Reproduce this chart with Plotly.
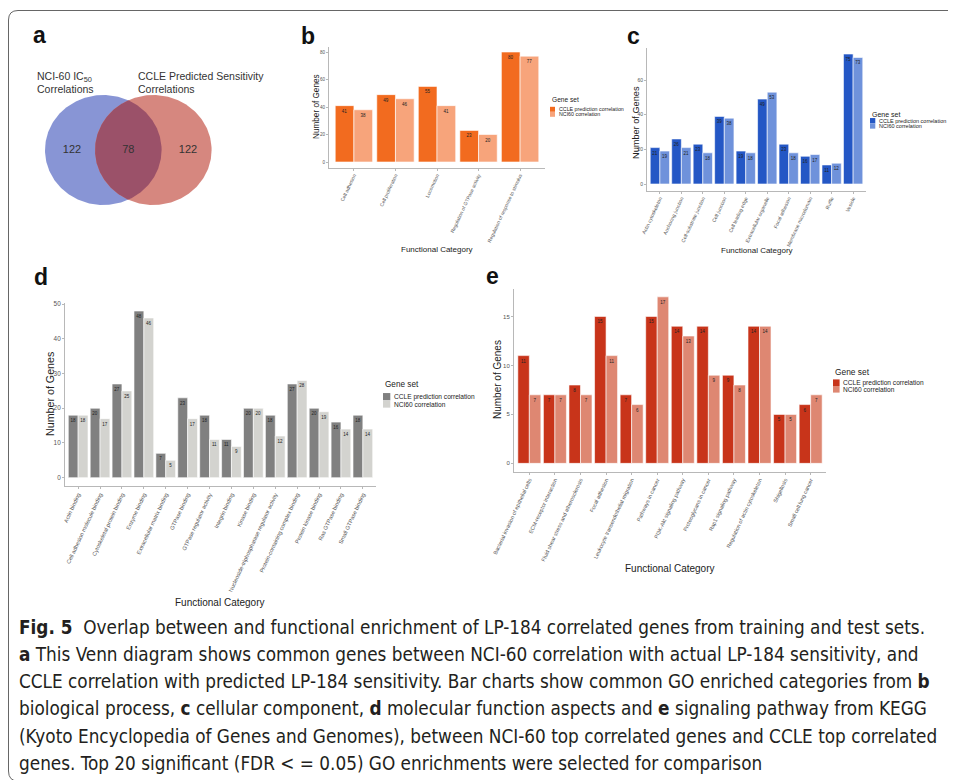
import numpy as np
import plotly.graph_objects as go

# page is rendered with an 8px body margin: figure pixel = page pixel - 8
OFF = 8
W, H = 948, 772


def fx(p):
    return (p - OFF) / W


def fy(p):
    return 1 - (p - OFF) / H


FONT = "Liberation Sans, Arial, sans-serif"
CAP_FONT = "Liberation Sans Narrow, DejaVu Sans Condensed, Liberation Sans, sans-serif"

# ---------------- data ----------------
venn_set_labels = ["NCI-60 IC<sub>50</sub><br>Correlations", "CCLE Predicted Sensitivity<br>Correlations"]
venn_counts = [122, 78, 122]  # NCI-60 only, shared, CCLE only

series_names = ["CCLE prediction correlation", "NCI60 correlation"]

b_categories = ["Cell adhesion", "Cell proliferation", "Locomotion",
                "Regulation of GTPase activity", "Regulation of response to stimulus"]
b_ccle = [41, 49, 55, 23, 80]
b_nci60 = [38, 46, 41, 20, 77]
b_ticks = [0, 20, 40, 60, 80]

c_categories = ["Actin cytoskeleton", "Anchoring junction", "Cell-substrate junction", "Cell junction",
                "Cell leading edge", "Extracellular organelle", "Focal adhesion",
                "Membrane microdomain", "Ruffle", "Vesicle"]
c_ccle = [21, 26, 23, 39, 19, 49, 23, 16, 11, 75]
c_nci60 = [19, 21, 18, 38, 18, 53, 18, 17, 12, 73]
c_ticks = [0, 20, 40, 60]

d_categories = ["Actin binding", "Cell adhesion molecule binding", "Cytoskeletal protein binding",
                "Enzyme binding", "Extracellular matrix binding", "GTPase binding",
                "GTPase regulator activity", "Integrin binding", "Kinase binding",
                "Nucleoside-triphosphatase regulator activity", "Protein-containing complex binding",
                "Protein kinase binding", "Ras GTPase binding", "Small GTPase binding"]
d_ccle = [18, 20, 27, 48, 7, 23, 18, 11, 20, 18, 27, 20, 16, 18]
d_nci60 = [18, 17, 25, 46, 5, 17, 11, 9, 20, 12, 28, 19, 14, 14]
d_ticks = [0, 10, 20, 30, 40, 50]

e_categories = ["Bacterial invasion of epithelial cells", "ECM-receptor interaction",
                "Fluid shear stress and atherosclerosis", "Focal adhesion",
                "Leukocyte transendothelial migration", "Pathways in cancer",
                "PI3K-Akt signaling pathway", "Proteoglycans in cancer", "Rap1 signaling pathway",
                "Regulation of actin cytoskeleton", "Shigellosis", "Small cell lung cancer"]
e_ccle = [11, 7, 8, 15, 7, 15, 14, 14, 9, 14, 5, 6]
e_nci60 = [7, 7, 7, 11, 6, 17, 13, 9, 8, 14, 5, 7]
e_ticks = [0, 5, 10, 15]

caption_lines = [
    "<b>Fig. 5</b>  Overlap between and functional enrichment of LP-184 correlated genes from training and test sets.",
    "<b>a</b> This Venn diagram shows common genes between NCI-60 correlation with actual LP-184 sensitivity, and",
    "CCLE correlation with predicted LP-184 sensitivity. Bar charts show common GO enriched categories from <b>b</b>",
    "biological process, <b>c</b> cellular component, <b>d</b> molecular function aspects and <b>e</b> signaling pathway from KEGG",
    "(Kyoto Encyclopedia of Genes and Genomes), between NCI-60 top correlated genes and CCLE top correlated",
    "genes. Top 20 significant (FDR &lt; = 0.05) GO enrichments were selected for comparison",
]

# ---------------- layout of panels (page pixels) ----------------
panels = [
    dict(letter="b", cats=b_categories, v1=b_ccle, v2=b_nci60, ticks=b_ticks,
         colors=("#F26B1F", "#F7A47B"), xpx=(329, 545), ypx=(167.5, 46.5),
         ytick=4.6, xtick=4.9, dl=4.5, ytitle=(8.2, 316, 107), xtitle=(8, 437, 249),
         letter_pos=(308, 35.5),
         leg=dict(x=550, title_y=100, title_size=6.6, ys=(109.3, 114.3), key=5, size=5.3)),
    dict(letter="c", cats=c_categories, v1=c_ccle, v2=c_nci60, ticks=c_ticks,
         colors=("#2457C5", "#6F92DB"), xpx=(647, 866), ypx=(190.5, 47.5),
         ytick=5, xtick=5, dl=4.5, ytitle=(9.2, 636, 123), xtitle=(8, 757, 250),
         letter_pos=(633.5, 35.5),
         leg=dict(x=870, title_y=114.3, title_size=7, ys=(120.7, 126), key=5.3, size=5.5)),
    dict(letter="d", cats=d_categories, v1=d_ccle, v2=d_nci60, ticks=d_ticks,
         colors=("#808080", "#D3D3CF"), xpx=(65, 376), ypx=(486, 302.7),
         ytick=6.4, xtick=5.6, dl=4.5, ytitle=(10.7, 50, 394), xtitle=(10, 220, 602),
         letter_pos=(41, 277),
         leg=dict(x=383, title_y=385, title_size=8.2, ys=(396.7, 404), key=7.3, size=6.6)),
    dict(letter="e", cats=e_categories, v1=e_ccle, v2=e_nci60, ticks=e_ticks,
         colors=("#C8341A", "#DE8772"), xpx=(514, 826), ypx=(471.7, 288.5),
         ytick=6, xtick=5.4, dl=4.5, ytitle=(10, 498, 380), xtitle=(10, 670, 568),
         letter_pos=(492, 276),
         leg=dict(x=833, title_y=372, title_size=8.4, ys=(382.7, 389.3), key=6.6, size=6.6)),
]

fig = go.Figure()
annotations = []
shapes = []
AXIS_COL = "#b8b8b8"
TICK_COL = "#555555"

for i, p in enumerate(panels, start=1):
    xa = "x" if i == 1 else f"x{i}"
    ya = "y" if i == 1 else f"y{i}"
    for vals, name, col in ((p["v1"], series_names[0], p["colors"][0]),
                            (p["v2"], series_names[1], p["colors"][1])):
        fig.add_trace(go.Bar(
            x=p["cats"], y=vals, name=name, xaxis=xa, yaxis=ya, showlegend=False,
            marker=dict(color=col, line=dict(color="white", width=0.6)),
            text=[str(v) for v in vals], textposition="inside", insidetextanchor="end",
            textangle=0, textfont=dict(size=p["dl"], color="#222222", family=FONT),
            constraintext="none", cliponaxis=False, hoverinfo="x+y+name"))
    n = len(p["cats"])
    vmax = max(max(p["v1"]), max(p["v2"]))
    xkey = "xaxis" if i == 1 else f"xaxis{i}"
    ykey = "yaxis" if i == 1 else f"yaxis{i}"
    fig.update_layout(**{
        xkey: dict(domain=[fx(p["xpx"][0]), fx(p["xpx"][1])], anchor=ya, type="category",
                   range=[-0.6, n - 0.4], showline=True, linecolor=AXIS_COL, linewidth=1,
                   ticks="outside", ticklen=2, tickwidth=0.8, tickcolor=AXIS_COL,
                   tickangle=-65, tickfont=dict(size=p["xtick"], color=TICK_COL, family=FONT),
                   showgrid=False, zeroline=False, automargin=False, fixedrange=True),
        ykey: dict(domain=[fy(p["ypx"][0]), fy(p["ypx"][1])], anchor=xa,
                   range=[-0.05 * vmax, 1.05 * vmax], tickvals=p["ticks"],
                   showline=True, linecolor=AXIS_COL, linewidth=1,
                   ticks="outside", ticklen=2, tickwidth=0.8, tickcolor=AXIS_COL,
                   tickfont=dict(size=p["ytick"], color=TICK_COL, family=FONT),
                   showgrid=False, zeroline=False, automargin=False, fixedrange=True),
    })
    # panel letter
    annotations.append(dict(text=f"<b>{p['letter']}</b>", x=fx(p["letter_pos"][0]), y=fy(p["letter_pos"][1]),
                            xref="paper", yref="paper", showarrow=False, xanchor="center", yanchor="middle",
                            font=dict(size=23, color="#111111", family=FONT)))
    # axis titles
    s, x0, y0 = p["ytitle"]
    annotations.append(dict(text="Number of Genes", x=fx(x0), y=fy(y0), xref="paper", yref="paper",
                            textangle=-90, showarrow=False, xanchor="center", yanchor="middle",
                            font=dict(size=s, color="#222222", family=FONT)))
    s, x0, y0 = p["xtitle"]
    annotations.append(dict(text="Functional Category", x=fx(x0), y=fy(y0), xref="paper", yref="paper",
                            showarrow=False, xanchor="center", yanchor="middle",
                            font=dict(size=s, color="#222222", family=FONT)))
    # legend (ggplot style)
    lg = p["leg"]
    annotations.append(dict(text="Gene set", x=fx(lg["x"] - 0.5), y=fy(lg["title_y"]), xref="paper", yref="paper",
                            showarrow=False, xanchor="left", yanchor="middle",
                            font=dict(size=lg["title_size"], color="#222222", family=FONT)))
    for yy, name, col in zip(lg["ys"], series_names, p["colors"]):
        k = lg["key"]
        shapes.append(dict(type="rect", xref="paper", yref="paper",
                           x0=fx(lg["x"]), x1=fx(lg["x"] + k), y0=fy(yy + k / 2), y1=fy(yy - k / 2),
                           fillcolor=col, line=dict(width=0)))
        annotations.append(dict(text=name, x=fx(lg["x"] + k + 1.5), y=fy(yy), xref="paper", yref="paper",
                                showarrow=False, xanchor="left", yanchor="middle",
                                font=dict(size=lg["size"], color="#222222", family=FONT)))

# ---------------- Venn diagram (panel a) ----------------
VA = 5
venn_blue = dict(cx=103.3, cy=150, rx=58.3, ry=55, color="#8895D5")
venn_red = dict(cx=153.3, cy=150, rx=58.3, ry=55, color="#D6877F")
lens_color = "#9B5169"


def ellipse_pts(e, n=240):
    t = np.linspace(0, 2 * np.pi, n)
    return e["cx"] + e["rx"] * np.cos(t), e["cy"] + e["ry"] * np.sin(t)


def ray_exit(p0, d, e):
    ax, ay = d[0] / e["rx"], d[1] / e["ry"]
    bx, by = (p0[0] - e["cx"]) / e["rx"], (p0[1] - e["cy"]) / e["ry"]
    A = ax * ax + ay * ay
    B = 2 * (ax * bx + ay * by)
    C = bx * bx + by * by - 1
    return (-B + np.sqrt(B * B - 4 * A * C)) / (2 * A)


for e in (venn_blue, venn_red):
    xs, ys = ellipse_pts(e)
    fig.add_trace(go.Scatter(x=xs, y=ys, mode="lines", fill="toself", fillcolor=e["color"],
                             line=dict(width=0, color=e["color"]), xaxis=f"x{VA}", yaxis=f"y{VA}",
                             showlegend=False, hoverinfo="skip", cliponaxis=False))
lx0 = venn_red["cx"] - venn_red["rx"]
lx1 = venn_blue["cx"] + venn_blue["rx"]
c0 = ((lx0 + lx1) / 2, venn_blue["cy"])
lens_x, lens_y = [], []
for th in np.linspace(0, 2 * np.pi, 360):
    d = (np.cos(th), np.sin(th))
    t = min(ray_exit(c0, d, venn_blue), ray_exit(c0, d, venn_red))
    lens_x.append(c0[0] + t * d[0])
    lens_y.append(c0[1] + t * d[1])
fig.add_trace(go.Scatter(x=lens_x, y=lens_y, mode="lines", fill="toself", fillcolor=lens_color,
                         line=dict(width=0, color=lens_color), xaxis=f"x{VA}", yaxis=f"y{VA}",
                         showlegend=False, hoverinfo="skip", cliponaxis=False))
count_x = [72, (lx0 + lx1) / 2, 188]
fig.add_trace(go.Scatter(x=count_x, y=[150] * 3, mode="text", text=[str(v) for v in venn_counts],
                         textfont=dict(size=11, color="#333333", family=FONT), cliponaxis=False,
                         xaxis=f"x{VA}", yaxis=f"y{VA}", showlegend=False, hoverinfo="skip"))
fig.add_trace(go.Scatter(x=[37, 138], y=[84, 84], mode="text", text=venn_set_labels,
                         textposition="middle right", cliponaxis=False,
                         textfont=dict(size=10.5, color="#333333", family=FONT),
                         xaxis=f"x{VA}", yaxis=f"y{VA}", showlegend=False, hoverinfo="skip"))
fig.update_layout(**{
    f"xaxis{VA}": dict(domain=[fx(8), fx(298)], range=[8, 298], visible=False, anchor=f"y{VA}",
                       automargin=False, fixedrange=True),
    f"yaxis{VA}": dict(domain=[fy(250), fy(60)], range=[250, 60], visible=False, anchor=f"x{VA}",
                       automargin=False, fixedrange=True),
})
annotations.append(dict(text="<b>a</b>", x=fx(39), y=fy(35.3), xref="paper", yref="paper",
                        showarrow=False, xanchor="center", yanchor="middle",
                        font=dict(size=23, color="#111111", family=FONT)))

# ---------------- caption ----------------
for k, line in enumerate(caption_lines):
    annotations.append(dict(text=line, x=fx(17), y=fy(627.3 + 27.2 * k), xref="paper", yref="paper",
                            showarrow=False, xanchor="left", yanchor="middle",
                            font=dict(size=18.8, color="#231F20", family=CAP_FONT)))

# frame with rounded corners
shapes.append(dict(type="path", xref="paper", yref="paper",
                   path=(f"M {fx(970)},{fy(781)} L {fx(18)},{fy(781)} Q {fx(8.5)},{fy(781)} {fx(8.5)},{fy(771)} "
                         f"L {fx(8.5)},{fy(20)} Q {fx(8.5)},{fy(10.5)} {fx(18)},{fy(10.5)} L {fx(970)},{fy(10.5)}"),
                   line=dict(color="#666666", width=1)))

fig.update_layout(
    template="none", width=W, height=H, autosize=False,
    margin=dict(l=0, r=0, t=0, b=0, pad=0),
    paper_bgcolor="white", plot_bgcolor="rgba(0,0,0,0)",
    barmode="group", bargap=0.1, bargroupgap=0,
    showlegend=False, annotations=annotations, shapes=shapes,
    font=dict(family=FONT, color="#333333"),
)

fig.write_html("out.html")
